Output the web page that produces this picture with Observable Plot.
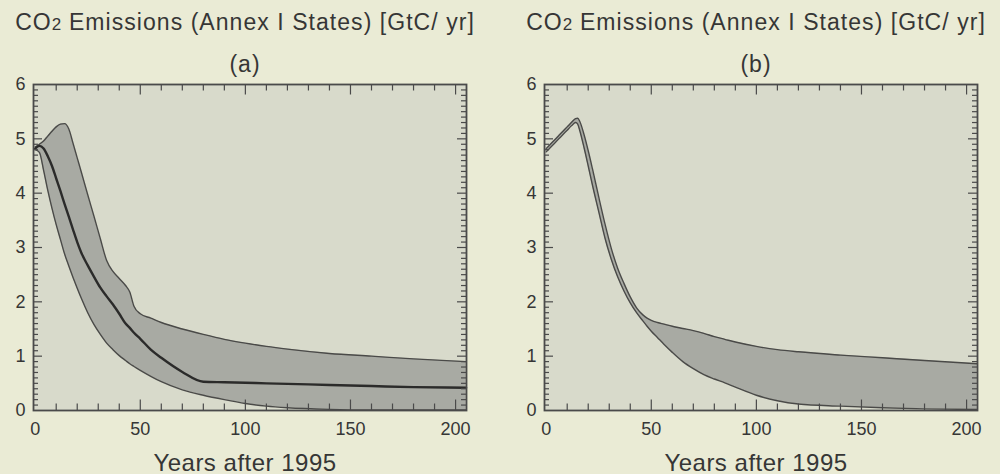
<!DOCTYPE html>
<html><head><meta charset="utf-8">
<script src="https://cdn.jsdelivr.net/npm/d3@7"></script>
<script src="https://cdn.jsdelivr.net/npm/@observablehq/plot@0.6"></script>
<style>
body{margin:0;background:#eaebd5;}
#wrap{position:relative;width:1000px;height:474px;overflow:hidden;}
.panel{position:absolute;top:0;width:500px;height:474px;}
</style></head><body><div id="wrap"></div>
<script>
// ---- data ----
const titleParts = ["CO", "2", " Emissions (Annex I States) [GtC/ yr]"];
const panelLabels = ["(a)", "(b)"];
const xLabel = "Years after 1995";

// Panel (a)
const yearsA   = [0,2,4,6,8,10,12,14,16,18, 20,22,25,28,31,34,37,40,43,45, 47,50,55,60,70,80,90,100,110,120, 140,160,180,205];
const upperA   = [4.85,4.90,4.96,5.05,5.14,5.22,5.27,5.28,5.18,4.92, 4.65,4.38,3.97,3.57,3.16,2.76,2.56,2.43,2.30,2.18, 1.92,1.78,1.70,1.62,1.50,1.40,1.31,1.24,1.18,1.13, 1.05,1.00,0.95,0.90];
const lowerA   = [4.80,4.75,4.42,4.05,3.72,3.42,3.15,2.88,2.66,2.45, 2.25,2.06,1.80,1.58,1.40,1.24,1.12,1.01,0.92,0.86, 0.81,0.74,0.63,0.53,0.38,0.28,0.20,0.13,0.08,0.05, 0.02,0.01,0.01,0.01];
const centralA = [4.82,4.87,4.82,4.68,4.50,4.27,4.04,3.80,3.57,3.33, 3.10,2.90,2.67,2.46,2.26,2.10,1.95,1.78,1.60,1.52, 1.43,1.32,1.12,0.97,0.71,0.53,0.52,0.51,0.50,0.49, 0.47,0.45,0.43,0.42];

// Panel (b)
const yearsB  = [0,2,4,6,8,10,12,14,15,16, 18,20,22,25,28,31,34,37,40,43, 46,48,50,53,56,60,65,70,75,80, 85,90,100,110,120,140,160,180,205];
const upperB  = [4.82,4.90,4.98,5.06,5.14,5.22,5.30,5.37,5.38,5.32, 5.08,4.78,4.45,3.93,3.43,2.98,2.62,2.34,2.09,1.89, 1.76,1.70,1.66,1.62,1.59,1.55,1.51,1.47,1.42,1.36, 1.31,1.26,1.18,1.12,1.08,1.02,0.97,0.92,0.86];
const lowerB  = [4.76,4.84,4.92,5.00,5.08,5.16,5.24,5.30,5.27,5.15, 4.84,4.50,4.15,3.66,3.17,2.78,2.46,2.20,1.98,1.80, 1.65,1.55,1.46,1.34,1.22,1.07,0.90,0.77,0.66,0.58, 0.51,0.43,0.28,0.18,0.12,0.08,0.05,0.03,0.02];

// ticks
const xTickLabels = [0,50,100,150,200];
const xMajorTicks = [50,100,150,200];
const xMinorTicks = [10,20,30,40,60,70,80,90,110,120,130,140,160,170,180,190];
const yTickLabels = [0,1,2,3,4,5,6];
const yMajorTicks = [1,2,3,4,5];
const yMinorTicks = d3.range(1, 60).filter(i => i % 10 !== 0).map(i => i / 10);

// ---- styles ----
const plotBg = "#d8dacb", bandFill = "#a8aaa3";
const lineColor = "#4a4a48", centralColor = "#2b2b2a", frameColor = "#4a4a4a", textColor = "#363636";
const fontFamily = '"Liberation Sans", Arial, sans-serif';

const tableA = yearsA.map((t, i) => ({t, hi: upperA[i], lo: lowerA[i], mid: centralA[i]}));
const tableB = yearsB.map((t, i) => ({t, hi: upperB[i], lo: lowerB[i]}));

const xDomain = [-0.8, 205.2], yDomain = [0, 6];
const fullTitle = titleParts.join("");

function makePlot(data, ml, mr, withCentral, panelLabel) {
  const width = 500, height = 474, mt = 84, mb = 64;
  const W = width - ml - mr, H = height - mt - mb;
  // inward tick lengths (px) expressed in data units through the scale extents
  const ux = (xDomain[1] - xDomain[0]) / W, uy = (yDomain[1] - yDomain[0]) / H;
  const [x0, x1] = xDomain, [y0, y1] = yDomain;
  const curve = "monotone-x";
  const tk = {stroke: frameColor, strokeWidth: 1.2};
  const marks = [
    Plot.frame({fill: plotBg}),
    Plot.areaY(data, {x: "t", y1: "lo", y2: "hi", fill: bandFill, curve}),
    Plot.line(data, {x: "t", y: "hi", stroke: lineColor, strokeWidth: 1.4, curve}),
    Plot.line(data, {x: "t", y: "lo", stroke: lineColor, strokeWidth: 1.4, curve})
  ];
  if (withCentral) marks.push(Plot.line(data, {x: "t", y: "mid", stroke: centralColor, strokeWidth: 2.4, curve}));
  marks.push(
    Plot.ruleX(xMinorTicks, {x: d => d, y1: y0, y2: y0 + 6.5 * uy, ...tk}),
    Plot.ruleX(xMajorTicks, {x: d => d, y1: y0, y2: y0 + 10.5 * uy, ...tk}),
    Plot.ruleX(xMinorTicks, {x: d => d, y1: y1 - 6.5 * uy, y2: y1, ...tk}),
    Plot.ruleX(xMajorTicks, {x: d => d, y1: y1 - 10.5 * uy, y2: y1, ...tk}),
    Plot.ruleY(yMinorTicks, {y: d => d, x1: x0, x2: x0 + 5 * ux, ...tk}),
    Plot.ruleY(yMajorTicks, {y: d => d, x1: x0, x2: x0 + 9 * ux, ...tk}),
    Plot.ruleY(yMinorTicks, {y: d => d, x1: x1 - 5 * ux, x2: x1, ...tk}),
    Plot.ruleY(yMajorTicks, {y: d => d, x1: x1 - 9 * ux, x2: x1, ...tk}),
    Plot.axisY(yTickLabels, {anchor: "left", tickSize: 0, tickPadding: 8, label: null, fontSize: 18, tickFormat: d => String(d)}),
    Plot.axisX(xTickLabels, {anchor: "bottom", tickSize: 0, tickPadding: 12, label: null, fontSize: 18, tickFormat: d => String(d)}),
    Plot.frame({stroke: frameColor, strokeWidth: 1.8}),
    Plot.text([fullTitle], {text: d => d, frameAnchor: "top", lineAnchor: "bottom", dy: -55, dx: -5, fontSize: 23, fill: textColor}),
    Plot.text([panelLabel], {text: d => d, frameAnchor: "top", lineAnchor: "bottom", dy: -13, dx: -5, fontSize: 23, fill: textColor}),
    Plot.text([xLabel], {text: d => d, frameAnchor: "bottom", lineAnchor: "bottom", dy: 60, dx: -5, fontSize: 24, fill: textColor})
  );
  const svg = Plot.plot({
    width, height, marginLeft: ml, marginRight: mr, marginTop: mt, marginBottom: mb,
    style: {background: "transparent", color: textColor, fontFamily, fontSize: "18px"},
    x: {domain: xDomain},
    y: {domain: yDomain},
    marks
  });
  // typographic touches: letter spacing and the smaller "2" in CO2
  const texts = d3.select(svg).selectAll("text");
  texts.filter(function() { return this.textContent === panelLabel; }).attr("letter-spacing", "1px");
  texts.filter(function() { return this.textContent === xLabel; }).attr("letter-spacing", "0.5px");
  texts.filter(function() { return this.textContent === fullTitle; }).each(function() {
    const t = d3.select(this).attr("letter-spacing", "1.05px");
    t.selectAll("*").remove();
    t.text(null);
    t.append("tspan").text(titleParts[0]);
    t.append("tspan").attr("font-size", "17px").attr("letter-spacing", "0.3px").text(titleParts[1]);
    t.append("tspan").text(titleParts[2]);
  });
  return svg;
}

const wrap = document.getElementById("wrap");
const panels = [
  {left: 0, data: tableA, ml: 33, mr: 34, central: true, label: panelLabels[0]},
  {left: 500, data: tableB, ml: 44, mr: 23, central: false, label: panelLabels[1]}
];
for (const p of panels) {
  const div = document.createElement("div");
  div.className = "panel";
  div.style.left = p.left + "px";
  const plot = makePlot(p.data, p.ml, p.mr, p.central, p.label);
  plot.style.position = "absolute"; plot.style.top = "0px"; plot.style.left = "0px";
  div.appendChild(plot);
  wrap.appendChild(div);
}
</script>
</body></html>
